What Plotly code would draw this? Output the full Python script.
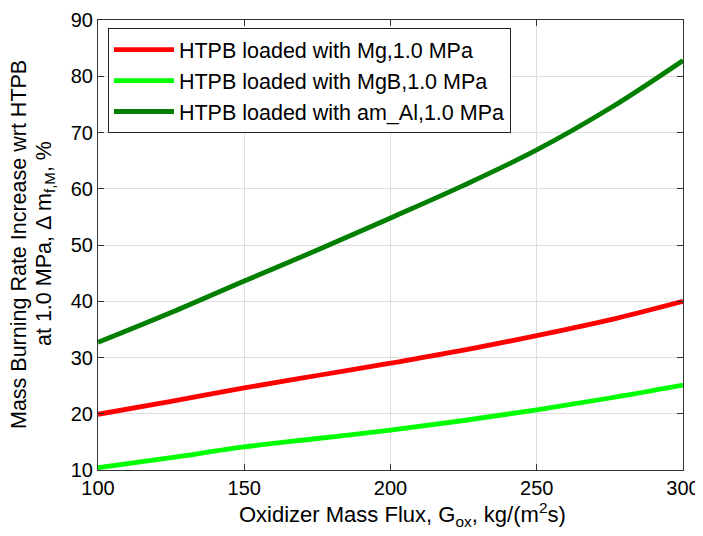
import plotly.graph_objects as go

flux = [100, 125, 150, 175, 200, 225, 250, 275, 300]
mg = [19.9, 22.2, 24.6, 26.8, 29.0, 31.3, 33.9, 36.7, 40.0]
mgb = [10.4, 12.2, 14.1, 15.6, 17.1, 18.8, 20.7, 22.8, 25.1]
am_al = [32.7, 38.0, 43.6, 49.1, 54.8, 60.6, 66.9, 74.3, 82.8]

names = ["HTPB loaded with Mg,1.0 MPa",
         "HTPB loaded with MgB,1.0 MPa",
         "HTPB loaded with am_Al,1.0 MPa"]
colors = ["#ff0000", "#00ff00", "#007f00"]

ytitle1 = "Mass Burning Rate Increase wrt HTPB"
ytitle2 = "at 1.0 MPa, \u0394 m<sub>f,M</sub>, %"
xtitle = "Oxidizer Mass Flux, G<sub>ox</sub>, kg/(m<sup>2</sup>s)"

fam = "Liberation Sans, Arial, sans-serif"

fig = go.Figure()
for ys, n, c in zip([mg, mgb, am_al], names, colors):
    fig.add_trace(go.Scatter(x=flux, y=ys, mode="lines", name=n,
                             line=dict(color=c, width=4.8, shape="spline")))

fig.update_layout(
    width=695, height=528,
    paper_bgcolor="white", plot_bgcolor="white",
    margin=dict(l=90, r=20, t=12, b=66, autoexpand=False),
    font=dict(family=fam, size=20, color="black"),
    legend=dict(x=0.017, y=0.982, xanchor="left", yanchor="top",
                bordercolor="#222222", borderwidth=1, bgcolor="white",
                font=dict(family=fam, size=21.5, color="black"),
                tracegroupgap=0, itemwidth=60),
    showlegend=True,
)
fig.update_xaxes(range=[100, 300], tickvals=[100, 150, 200, 250, 300],
                 showgrid=True, gridcolor="#dedede", gridwidth=1,
                 showline=True, linecolor="#333333", linewidth=1, mirror="ticks",
                 ticks="inside", ticklen=6, tickcolor="#333333",
                 zeroline=False, automargin=False,
                 tickfont=dict(family=fam, size=20, color="black"))
fig.update_yaxes(range=[10, 90], tickvals=[10, 20, 30, 40, 50, 60, 70, 80, 90],
                 showgrid=True, gridcolor="#dedede", gridwidth=1,
                 showline=True, linecolor="#333333", linewidth=1, mirror="ticks",
                 ticks="inside", ticklen=6, tickcolor="#333333",
                 zeroline=False, automargin=False,
                 tickfont=dict(family=fam, size=20, color="black"))
fig.add_annotation(text=xtitle, xref="paper", yref="paper", x=0.52, y=0,
                   xanchor="center", yanchor="top", yshift=-27,
                   showarrow=False, font=dict(family=fam, size=22, color="black"))
fig.add_annotation(text=ytitle1, xref="paper", yref="paper", x=-0.135, y=0.5,
                   xanchor="center", yanchor="middle", textangle=-90,
                   showarrow=False, font=dict(family=fam, size=21.5, color="black"))
fig.add_annotation(text=ytitle2, xref="paper", yref="paper", x=-0.0906, y=0.5,
                   xanchor="center", yanchor="middle", textangle=-90,
                   showarrow=False, font=dict(family=fam, size=21.5, color="black"),
                   yshift=2)

fig.write_html("out.html")
